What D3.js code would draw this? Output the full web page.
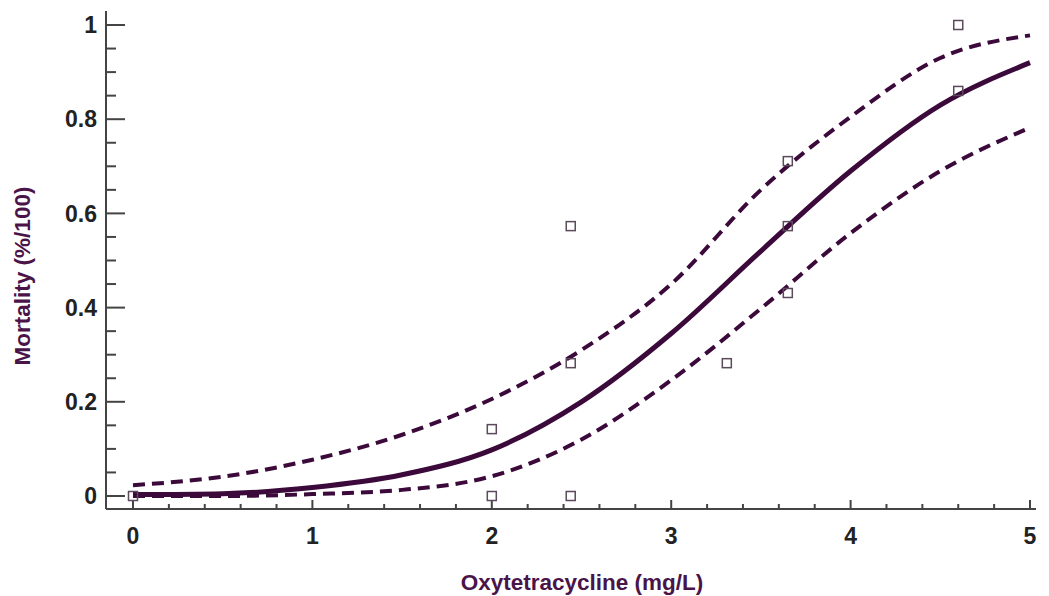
<!DOCTYPE html>
<html>
<head>
<meta charset="utf-8">
<script src="https://cdn.jsdelivr.net/npm/d3@7"></script>
<style>
  body { margin: 0; background: #fff; }
  svg { font-family: "Liberation Sans", Arial, sans-serif; }
</style>
</head>
<body>
<svg></svg>
<script>
var svg = d3.select("svg");
var width = 1049;
var height = 596;

// observed mortality
var obsDose = [0, 2, 2, 2.44, 2.44, 2.44, 3.31, 3.65, 3.65, 3.65, 4.6, 4.6];
var obsMort = [0, 0.142, 0, 0.573, 0.282, 0, 0.282, 0.711, 0.573, 0.431, 1.0, 0.86];

// fitted curve and confidence bands
var fitDose  = [0, 0.5, 1, 1.5, 2, 2.5, 3, 3.5, 4, 4.5, 5];
var fitMid   = [0.003, 0.005, 0.018, 0.045, 0.098, 0.2, 0.345, 0.52, 0.69, 0.83, 0.92];
var fitUpper = [0.023, 0.041, 0.077, 0.13, 0.206, 0.31, 0.45, 0.65, 0.805, 0.93, 0.978];
var fitLower = [0, 0, 0.004, 0.013, 0.042, 0.12, 0.246, 0.398, 0.558, 0.69, 0.782];

var xTicks = [0, 1, 2, 3, 4, 5];
var yTicks = [0, 0.2, 0.4, 0.6, 0.8, 1];

var lineColor = "#3b0a3b";
var titleColor = "#4a1449";

svg.attr("width", width).attr("height", height);

var x = d3.scaleLinear().domain([0, 5]).range([133, 1030]);
var y = d3.scaleLinear().domain([0, 1]).range([496, 25]);

var axisX = 106, axisY = 509;

// axis lines
svg.append("line")
    .attr("x1", axisX).attr("x2", axisX)
    .attr("y1", 11).attr("y2", axisY)
    .attr("stroke", "#444").attr("stroke-width", 2);
svg.append("line")
    .attr("x1", axisX).attr("x2", 1036)
    .attr("y1", axisY).attr("y2", axisY)
    .attr("stroke", "#444").attr("stroke-width", 2);

// y ticks (major + minor, pointing inwards)
var yMinor = d3.range(0, 1.0001, 0.05);
svg.append("g").selectAll("line")
    .data(yMinor)
  .enter().append("line")
    .attr("x1", axisX)
    .attr("x2", d => axisX + (Math.abs(d * 5 - Math.round(d * 5)) < 1e-6 ? 19 : 10))
    .attr("y1", d => y(d)).attr("y2", d => y(d))
    .attr("stroke", "#444").attr("stroke-width", 2);

svg.append("g").selectAll("text")
    .data(yTicks)
  .enter().append("text")
    .attr("x", 97)
    .attr("y", d => y(d))
    .attr("dy", "0.36em")
    .attr("text-anchor", "end")
    .attr("font-size", 23)
    .attr("font-weight", "bold")
    .attr("fill", "#222")
    .text(d => d3.format("~g")(d));

// x ticks
var xMinor = d3.range(0, 5.0001, 0.2);
svg.append("g").selectAll("line")
    .data(xMinor)
  .enter().append("line")
    .attr("x1", d => x(d)).attr("x2", d => x(d))
    .attr("y1", axisY)
    .attr("y2", d => axisY - (Math.abs(d - Math.round(d)) < 1e-6 ? 9 : 5))
    .attr("stroke", "#444").attr("stroke-width", 2);

svg.append("g").selectAll("text")
    .data(xTicks)
  .enter().append("text")
    .attr("x", d => x(d))
    .attr("y", 544)
    .attr("text-anchor", "middle")
    .attr("font-size", 23)
    .attr("font-weight", "bold")
    .attr("fill", "#222")
    .text(d => d);

// axis titles
svg.append("text")
    .attr("x", 582).attr("y", 590)
    .attr("text-anchor", "middle")
    .attr("font-size", 22.5)
    .attr("font-weight", "bold")
    .attr("fill", titleColor)
    .text("Oxytetracycline (mg/L)");
svg.append("text")
    .attr("transform", "translate(30,276) rotate(-90)")
    .attr("text-anchor", "middle")
    .attr("font-size", 22.5)
    .attr("font-weight", "bold")
    .attr("fill", titleColor)
    .text("Mortality (%/100)");

// curves
var line = d3.line()
    .x(d => x(d[0]))
    .y(d => y(d[1]))
    .curve(d3.curveMonotoneX);

var bands = [
  {vals: fitUpper, dash: "12,7", w: 4},
  {vals: fitLower, dash: "12,7", w: 4},
  {vals: fitMid, dash: null, w: 5}
];
bands.forEach(function(b) {
  svg.append("path")
      .attr("fill", "none")
      .attr("stroke", lineColor)
      .attr("stroke-width", b.w)
      .attr("stroke-dasharray", b.dash)
      .attr("d", line(fitDose.map((d, i) => [d, b.vals[i]])));
});

// observed points
svg.append("g").selectAll("rect")
    .data(obsDose.map((d, i) => [d, obsMort[i]]))
  .enter().append("rect")
    .attr("x", d => x(d[0]) - 4.5)
    .attr("y", d => y(d[1]) - 4.5)
    .attr("width", 9).attr("height", 9)
    .attr("fill", "none")
    .attr("stroke", "#5b4a5b")
    .attr("stroke-width", 1.5);
</script>
</body>
</html>
